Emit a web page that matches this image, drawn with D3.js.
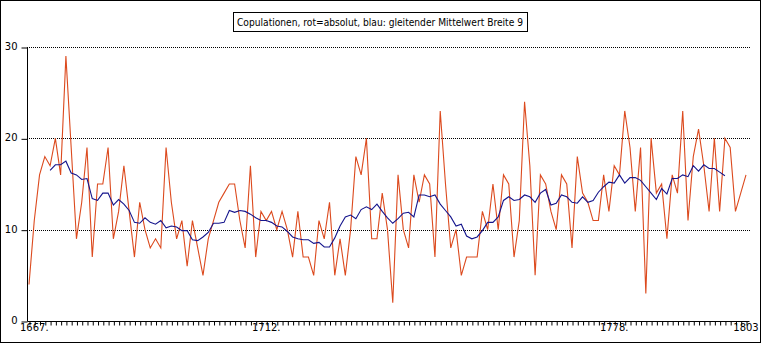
<!DOCTYPE html>
<html>
<head>
<meta charset="utf-8">
<script src="https://cdn.jsdelivr.net/npm/d3@7"></script>
<style>
  html, body { margin: 0; padding: 0; background: #fff; }
  svg { display: block; }
  text { font-family: "DejaVu Sans", sans-serif; }
</style>
</head>
<body>
<svg id="chart" width="762" height="346"></svg>
<script>
// ---- data ----
const firstYear = 1667;
const lastYear = 1803;
const absolut = [4,11,16,18,17,20,16,29,19,9,13,19,7,15,15,19,9,12,17,12,7,13,10,8,9,8,19,13,9,11,
  6,11,8,5,9,11,13,14,15,15,11,8,17,7,12,11,12,10,12,10,7,12,7,7,5,11,9,13,5,9,
  5,10,18,16,20,9,9,14,10,2,16,10,8,16,13,16,15,7,23,15,8,10,5,7,7,7,12,10,15,10,
  16,15,7,11,24,17,5,16,15,12,10,16,15,8,18,14,13,11,11,16,12,17,16,23,19,12,19,3,20,14,
  15,9,16,14,23,11,18,21,17,12,20,12,20,19,12,14,16];
const mittelStart = 1671;
const mittel = [16.5,17.1,17.1,17.5,16.2,16.0,15.5,15.6,13.4,13.2,14.0,14.0,12.7,13.3,12.8,12.1,10.8,10.7,11.3,10.8,
  10.6,11.0,10.2,10.4,10.3,9.9,9.9,8.9,8.8,9.2,9.7,10.7,10.7,10.8,12.1,11.9,12.1,12.0,11.7,11.3,
  11.0,11.0,10.8,10.4,10.3,9.8,9.2,9.0,8.9,8.9,8.5,8.6,8.1,8.1,9.1,10.4,11.4,11.6,11.2,12.2,
  12.5,12.2,12.8,12.0,11.3,10.7,11.2,11.8,11.9,11.4,13.8,13.8,13.6,13.8,12.8,12.1,11.4,10.4,10.6,9.3,
  9.0,9.2,9.9,10.8,10.8,11.4,13.2,13.6,13.2,13.3,13.8,13.6,13.0,14.0,14.4,12.7,12.9,13.8,13.6,13.0,
  12.9,13.6,13.0,13.2,14.1,14.7,15.2,15.1,16.0,15.1,15.7,15.7,15.4,14.7,14.0,13.3,14.5,13.9,15.6,15.6,
  16.0,15.8,17.0,16.4,17.1,16.7,16.7,16.3,15.9];
const yTicks = [0, 10, 20, 30];
const yGrid = [10, 20, 30];
const xLabelYears = [1667, 1712, 1778, 1803];
const xLabelTexts = ["1667.", "1712.", "1778.", "1803"];
const title = "Copulationen, rot=absolut, blau: gleitender Mittelwert Breite 9";

// ---- build ----
const years = d3.range(firstYear, lastYear + 1);
const redData = years.map((y, i) => ({ year: y, v: absolut[i] }));
const blueData = mittel.map((v, i) => ({ year: mittelStart + i, v: v }));

const svg = d3.select("#chart");
const x = d3.scaleLinear().domain([firstYear, lastYear]).range([29, 746]);
const y = d3.scaleLinear().domain([0, 30]).range([321, 47]);
const plotLeft = 27, plotRight = 750;

// outer frame
svg.append("rect").attr("x", 0.5).attr("y", 0.5).attr("width", 760).attr("height", 342)
  .attr("fill", "none").attr("stroke", "#000").attr("stroke-width", 1);

// title box
const tb = svg.append("g");
tb.append("rect").attr("x", 233.5).attr("y", 12.5).attr("width", 294).attr("height", 19)
  .attr("fill", "#fff").attr("stroke", "#000").attr("stroke-width", 1);
tb.append("text").attr("x", 237).attr("y", 26).attr("font-size", 10)
  .attr("textLength", 286).attr("lengthAdjust", "spacingAndGlyphs")
  .text(title);

// grid lines (dotted)
svg.append("g").selectAll("line").data(yGrid).join("line")
  .attr("x1", plotLeft).attr("x2", plotRight)
  .attr("y1", d => Math.round(y(d)) + 0.5).attr("y2", d => Math.round(y(d)) + 0.5)
  .attr("stroke", "#000").attr("stroke-width", 1).attr("stroke-dasharray", "1,1");

// y axis
const yAxis = d3.axisLeft(y).tickValues(yTicks).tickSize(6).tickPadding(4).tickFormat(d3.format("d"));
const gy = svg.append("g").attr("transform", `translate(${plotLeft + 0.5},0.5)`).call(yAxis);
gy.select(".domain").attr("d", `M0,${y(30)}V${y(0)}`);
gy.selectAll("text").attr("font-size", 10).attr("font-family", "DejaVu Sans, sans-serif")
  .attr("fill", "#000").attr("dy", "0.2em");
gy.selectAll("line").attr("stroke", "#000");

// x axis (tick every year)
const xAxis = d3.axisBottom(x).tickValues(years).tickSize(4).tickFormat("");
const gx = svg.append("g").attr("transform", `translate(0.5,${y(0) + 0.5})`).call(xAxis);
gx.select(".domain").attr("d", `M${plotLeft},0H${plotRight - 1}`);
gx.selectAll("line").attr("stroke", "#000");

// x labels
svg.append("g").selectAll("text").data(xLabelYears).join("text")
  .attr("x", (d, i) => i === 0 ? 20 : x(d))
  .attr("y", 331).attr("font-size", 10)
  .attr("text-anchor", (d, i) => i === 0 ? "start" : "middle")
  .text((d, i) => xLabelTexts[i]);

// lines
const line = d3.line().x(d => x(d.year)).y(d => y(d.v));
svg.append("path").datum(redData).attr("d", line)
  .attr("fill", "none").attr("stroke", "#dc4a1e").attr("stroke-width", 1.1);
svg.append("path").datum(blueData).attr("d", line)
  .attr("fill", "none").attr("stroke", "#14148c").attr("stroke-width", 1.1);
</script>
</body>
</html>
